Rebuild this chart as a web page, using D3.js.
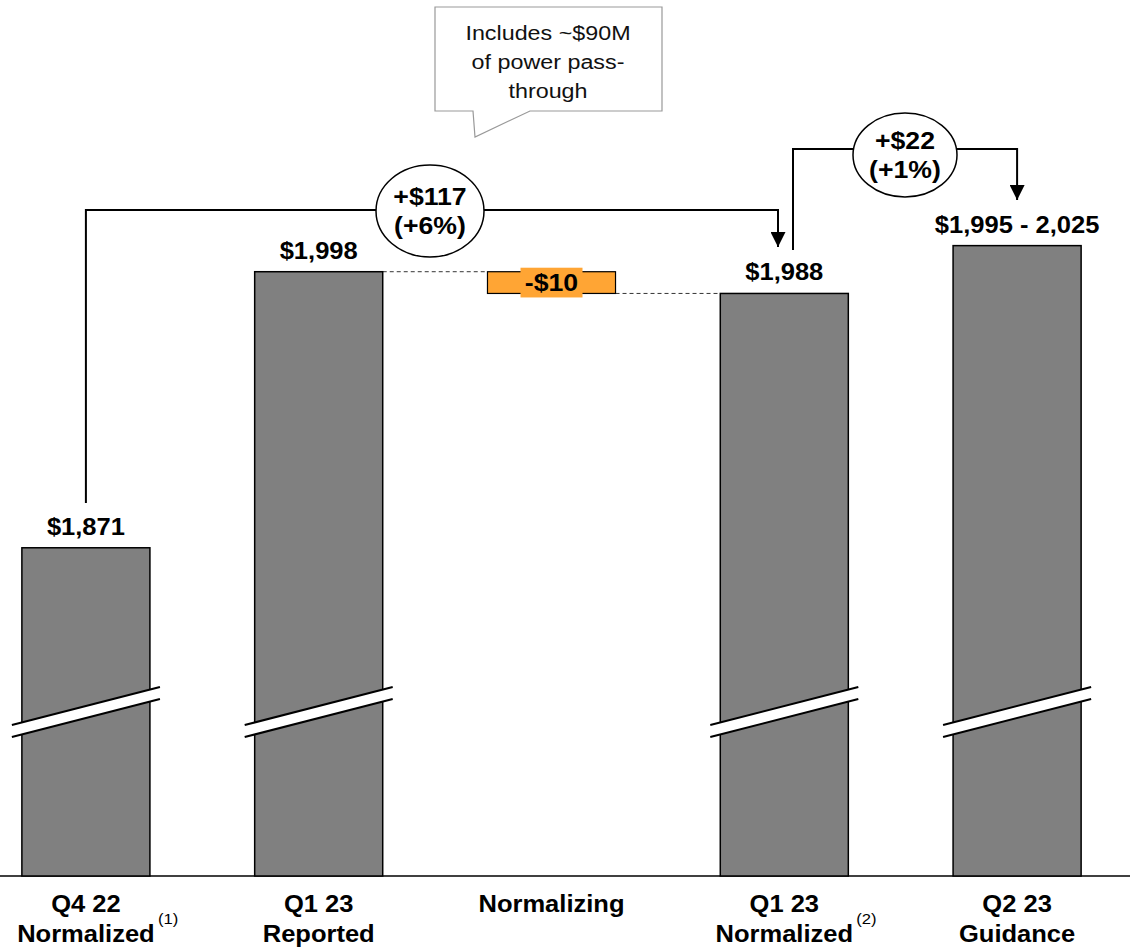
<!DOCTYPE html>
<html>
<head>
<meta charset="utf-8">
<script src="https://cdn.jsdelivr.net/npm/d3@7"></script>
<style>
  html, body { margin: 0; padding: 0; background: #fff; }
  svg { display: block; font-family: Arial, "Liberation Sans", sans-serif; }
</style>
</head>
<body>
<svg id="chart" width="1130" height="947"></svg>
<script>
// Revenue bridge ($M)
const categories = ["Q4 22 Normalized", "Q1 23 Reported", "Normalizing", "Q1 23 Normalized", "Q2 23 Guidance"];
const labelLine1 = ["Q4 22", "Q1 23", "Normalizing", "Q1 23", "Q2 23"];
const labelLine2 = ["Normalized", "Reported", "", "Normalized", "Guidance"];
const footnotes = ["(1)", "", "", "(2)", ""];
const barValues = [1871, 1998, null, 1988, 2010];          // guidance plotted at range midpoint
const barLabels = ["$1,871", "$1,998", "", "$1,988", "$1,995 - 2,025"];
const adjStart = 1998, adjEnd = 1988;
const adjLabel = "-$10";
const change1 = ["+$117", "(+6%)"];
const change2 = ["+$22", "(+1%)"];
const calloutLines = ["Includes ~$90M", "of power pass-", "through"];

const W = 1130, H = 947;
const baseY = 876;
const SX = 1.11;   // slightly wide lettering
const svg = d3.select("#chart");

const x = d3.scaleBand().domain(categories).range([-30.5, 1133.5])
  .paddingInner(0.45).paddingOuter(0.225);
const y = d3.scaleLinear().domain([1720, 2100]).range([baseY, 50]);
const bw = x.bandwidth();
const cx = c => x(c) + bw / 2;

// text placed at (tx, ty) with horizontal widening
function label(parent, tx, ty, str, opts) {
  const o = Object.assign({ size: 23, bold: true, anchor: "middle", fill: "#000" }, opts || {});
  return parent.append("text")
    .attr("transform", `translate(${tx},${ty}) scale(${SX},1)`)
    .attr("text-anchor", o.anchor)
    .attr("font-weight", o.bold ? "bold" : "normal")
    .attr("font-size", o.size)
    .attr("fill", o.fill)
    .text(str);
}

// axis baseline
svg.append("line").attr("x1", 0).attr("x2", W).attr("y1", baseY).attr("y2", baseY)
  .attr("stroke", "#000").attr("stroke-width", 1.5);

// gray bars
const bars = categories.map((c, i) => ({ c, v: barValues[i], label: barLabels[i] })).filter(d => d.v !== null);
svg.selectAll("rect.bar").data(bars).enter().append("rect")
  .attr("class", "bar")
  .attr("x", d => x(d.c)).attr("width", bw)
  .attr("y", d => y(d.v)).attr("height", d => baseY - y(d.v))
  .attr("fill", "#808080").attr("stroke", "#000").attr("stroke-width", 1.5);

// axis-break marks across each bar
bars.forEach(d => {
  const x0 = x(d.c) - 10, x1 = x(d.c) + bw + 10;
  const g = svg.append("g");
  g.append("path")
    .attr("d", `M${x0},725 L${x1},687 L${x1},699 L${x0},737 Z`)
    .attr("fill", "#fff");
  g.append("line").attr("x1", x0).attr("y1", 725).attr("x2", x1).attr("y2", 687)
    .attr("stroke", "#000").attr("stroke-width", 2);
  g.append("line").attr("x1", x0).attr("y1", 737).attr("x2", x1).attr("y2", 699)
    .attr("stroke", "#000").attr("stroke-width", 2);
});

// value labels
bars.forEach(d => label(svg, cx(d.c), y(d.v) - 13, d.label));

// normalizing adjustment bar
const adjC = categories[2];
svg.append("rect")
  .attr("x", x(adjC)).attr("width", bw)
  .attr("y", y(adjStart)).attr("height", y(adjEnd) - y(adjStart))
  .attr("fill", "#FFA534").attr("stroke", "#000").attr("stroke-width", 1.2);
svg.append("rect")
  .attr("x", cx(adjC) - 31).attr("width", 62)
  .attr("y", y(adjStart) - 4).attr("height", y(adjEnd) - y(adjStart) + 8)
  .attr("fill", "#FFA534");
label(svg, cx(adjC), (y(adjStart) + y(adjEnd)) / 2 + 8, adjLabel, { size: 24 });

// dashed connectors
svg.append("line")
  .attr("x1", x(categories[1]) + bw).attr("x2", x(adjC))
  .attr("y1", y(adjStart)).attr("y2", y(adjStart))
  .attr("stroke", "#000").attr("stroke-width", 0.8).attr("stroke-dasharray", "4,3");
svg.append("line")
  .attr("x1", x(adjC) + bw).attr("x2", x(categories[3]))
  .attr("y1", y(adjEnd)).attr("y2", y(adjEnd))
  .attr("stroke", "#000").attr("stroke-width", 0.8).attr("stroke-dasharray", "4,3");

// arrowhead
svg.append("defs").append("marker")
  .attr("id", "arrow").attr("viewBox", "0 0 10 10")
  .attr("refX", 10).attr("refY", 5)
  .attr("markerWidth", 15).attr("markerHeight", 15)
  .attr("markerUnits", "userSpaceOnUse").attr("orient", "auto")
  .append("path").attr("d", "M0,0 L10,5 L0,10 Z").attr("fill", "#000");

function bracket(xa, ya, xb, yb, top, ell, lines) {
  svg.append("path")
    .attr("d", `M${xa},${ya} L${xa},${top} L${xb},${top} L${xb},${yb}`)
    .attr("fill", "none").attr("stroke", "#000").attr("stroke-width", 2)
    .attr("marker-end", "url(#arrow)");
  svg.append("ellipse")
    .attr("cx", ell.cx).attr("cy", ell.cy).attr("rx", ell.rx).attr("ry", ell.ry)
    .attr("fill", "#fff").attr("stroke", "#000").attr("stroke-width", 1.5);
  label(svg, ell.cx, ell.cy - 6, lines[0], { size: 24 });
  label(svg, ell.cx, ell.cy + 23, lines[1], { size: 24 });
}

bracket(cx(categories[0]), 503, 778, 247, 210, { cx: 430, cy: 211, rx: 54, ry: 46 }, change1);
bracket(793, 250, cx(categories[4]), 200, 149, { cx: 905, cy: 155, rx: 52, ry: 42 }, change2);

// callout bubble
svg.append("path")
  .attr("d", "M435,7 L662,7 L662,111 L530,111 L475,137 L473,111 L435,111 Z")
  .attr("fill", "#fff").attr("stroke", "#999").attr("stroke-width", 1.2);
calloutLines.forEach((t, i) => {
  label(svg, 548, 40 + i * 29, t, { size: 21, bold: false, fill: "#111" });
});

// category labels
categories.forEach((c, i) => {
  label(svg, cx(c), 912, labelLine1[i]);
  if (labelLine2[i]) label(svg, cx(c), 942, labelLine2[i]);
  if (footnotes[i]) {
    label(svg, cx(c) + 72, 924, footnotes[i], { size: 15, bold: false, anchor: "start" });
  }
});
</script>
</body>
</html>
